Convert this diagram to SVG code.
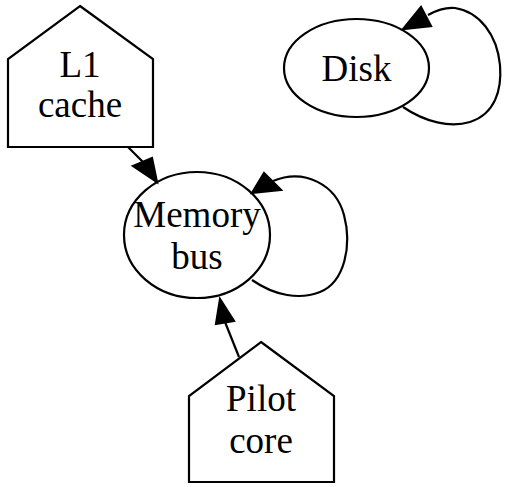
<svg xmlns="http://www.w3.org/2000/svg" width="505" height="487" viewBox="0 0 505 487">
  <style>
    .shape { fill: none; stroke: #000; stroke-width: 2.2; }
    .edge { fill: none; stroke: #000; stroke-width: 2.2; }
    .head { fill: #000; stroke: #000; stroke-width: 2.2; }
    text { font-family: "Liberation Serif", "Times New Roman", serif; font-size: 37px; fill: #000; text-anchor: middle; }
  </style>
  <rect width="505" height="487" fill="#fff"/>

  <g id="edges">
    <!-- L1 cache -> Memory bus -->
    <path class="edge" d="M128,147 L143,162"/>
    <polygon class="head" points="133,166 152,158 157,182"/>
    <!-- Memory bus self loop -->
    <path class="edge" d="M252,280 C275,296 300,300 320,292 C345,282 352,245 344,215 C336,185 305,168 273,181"/>
    <polygon class="head" points="264,173 281,190 252,193"/>
    <!-- Pilot core -> Memory bus -->
    <path class="edge" d="M239,357 L225,322"/>
    <polygon class="head" points="216,324 234,321 220,299"/>
    <!-- Disk self loop -->
    <path class="edge" d="M403,107 C425,122 450,128 470,122 C495,114 502,90 500,65 C497,35 480,12 455,8 C445,7 437,10 428,15"/>
    <polygon class="head" points="421,7 431,26 403,29"/>
  </g>

  <g id="l1cache">
    <polygon class="shape" points="80,6 153,59 153,147 8,147 8,59"/>
    <text x="80" y="77">L1</text>
    <text x="80" y="117">cache</text>
  </g>

  <g id="disk">
    <ellipse class="shape" cx="356.5" cy="68" rx="72.5" ry="49"/>
    <text x="356.5" y="81">Disk</text>
  </g>

  <g id="memorybus">
    <ellipse class="shape" cx="197" cy="235" rx="73" ry="63"/>
    <text x="197" y="227">Memory</text>
    <text x="197" y="269">bus</text>
  </g>

  <g id="pilotcore">
    <polygon class="shape" points="261,342 334,396 334,482 189,482 189,396"/>
    <text x="261" y="411">Pilot</text>
    <text x="261" y="453">core</text>
  </g>
</svg>
